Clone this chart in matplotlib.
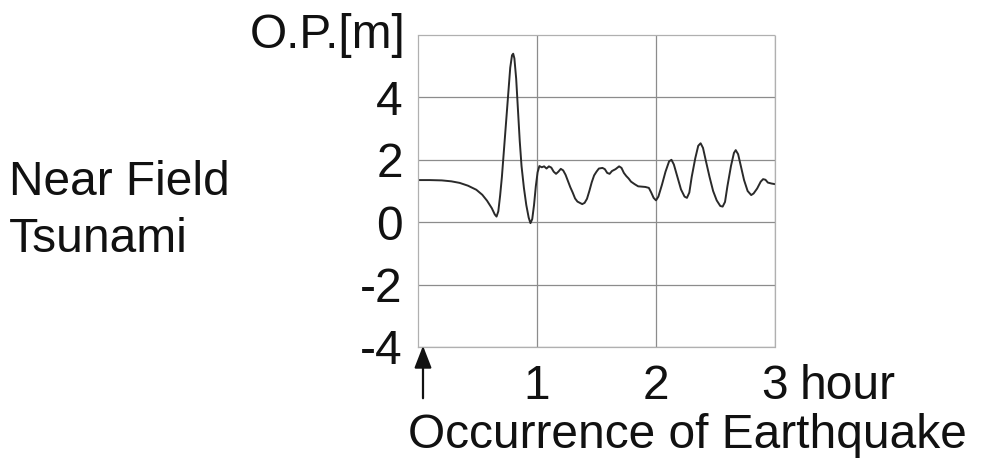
import matplotlib
matplotlib.use("Agg")
import matplotlib.pyplot as plt
from matplotlib.patches import FancyArrowPatch

plt.rcParams['font.family'] = ['Liberation Sans', 'DejaVu Sans']

# Observed water level (O.P. datum) after the earthquake
hours = [0.00, 0.10, 0.20, 0.28, 0.35, 0.42, 0.49, 0.54, 0.58, 0.62, 0.645, 0.66,
         0.675, 0.69, 0.705, 0.72, 0.74, 0.76, 0.775, 0.79, 0.80, 0.81, 0.825, 0.84,
         0.855, 0.87, 0.89, 0.91, 0.93, 0.945, 0.96, 0.975, 0.99, 1.005, 1.02, 1.04,
         1.06, 1.08, 1.10, 1.12, 1.14, 1.16, 1.18, 1.20, 1.22, 1.24, 1.26, 1.28,
         1.30, 1.32, 1.34, 1.36, 1.38, 1.40, 1.42, 1.44, 1.46, 1.48, 1.50, 1.52,
         1.55, 1.57, 1.59, 1.61, 1.63, 1.66, 1.69, 1.71, 1.73, 1.75, 1.77, 1.79,
         1.82, 1.85, 1.88, 1.91, 1.94, 1.96, 1.98, 2.00, 2.02, 2.05, 2.08, 2.11,
         2.13, 2.15, 2.18, 2.21, 2.24, 2.26, 2.28, 2.30, 2.33, 2.355, 2.375, 2.395,
         2.42, 2.45, 2.48, 2.51, 2.54, 2.56, 2.58, 2.60, 2.63, 2.655, 2.67, 2.69,
         2.71, 2.74, 2.77, 2.80, 2.82, 2.85, 2.88, 2.90, 2.92, 2.94, 2.97, 3.00]
level_m = [1.35, 1.35, 1.34, 1.31, 1.26, 1.17, 1.04, 0.88, 0.69, 0.45, 0.25, 0.18,
           0.35, 0.85, 1.45, 2.20, 3.20, 4.20, 4.95, 5.35, 5.40, 5.25, 4.60, 3.60,
           2.60, 1.80, 1.10, 0.55, 0.15, -0.03, 0.10, 0.55, 1.15, 1.60, 1.80, 1.76,
           1.79, 1.72, 1.79, 1.75, 1.62, 1.55, 1.62, 1.71, 1.66, 1.52, 1.32, 1.12,
           0.95, 0.76, 0.66, 0.62, 0.58, 0.62, 0.75, 1.00, 1.28, 1.50, 1.62, 1.72,
           1.74, 1.70, 1.58, 1.55, 1.64, 1.70, 1.79, 1.74, 1.58, 1.48, 1.40, 1.30,
           1.22, 1.15, 1.14, 1.13, 1.10, 0.95, 0.78, 0.70, 0.82, 1.20, 1.62, 1.95,
           2.00, 1.85, 1.45, 1.05, 0.82, 0.78, 0.95, 1.45, 2.05, 2.45, 2.53, 2.38,
           1.95, 1.45, 1.00, 0.70, 0.52, 0.50, 0.65, 1.15, 1.80, 2.22, 2.31, 2.18,
           1.85, 1.35, 1.00, 0.87, 0.92, 1.08, 1.30, 1.38, 1.36, 1.27, 1.24, 1.22]

x_ticks = [1, 2, 3]
x_tick_labels = ["1", "2", "3"]
y_ticks = [-4, -2, 0, 2, 4]
y_tick_labels = ["-4", "-2", "0", "2", "4"]

FS = 34.5
INK = "#111111"

fig = plt.figure(figsize=(9.82, 4.58), dpi=100)
ax = fig.add_axes([418 / 982, 111 / 458, 357 / 982, 312 / 458])

ax.plot(hours, level_m, color="#2a2a2a", linewidth=1.4)

ax.set_xlim(0, 3)
ax.set_ylim(-4, 6)
ax.set_xticks(x_ticks)
ax.set_xticklabels(x_tick_labels, fontsize=FS)
ax.set_yticks(y_ticks)
ax.set_yticklabels(y_tick_labels, fontsize=FS)
ax.tick_params(axis="both", length=0, colors=INK)
ax.tick_params(axis="x", pad=12)
ax.tick_params(axis="y", pad=11)

ax.grid(True, color="#8c8c8c", linewidth=0.9)
ax.set_axisbelow(True)
for side in ["top", "right", "left", "bottom"]:
    ax.spines[side].set_color("#b0b0b0")
    ax.spines[side].set_linestyle((0, (1, 1)))
    ax.spines[side].set_linewidth(0.9)

# Unit label above the y tick labels
fig.text(406 / 982, 1 - 48 / 458, "O.P.[m]", fontsize=FS, ha="right",
         va="baseline", color=INK)

# Unit after the last x tick, on the tick-label baseline
fig.text(800 / 982, 1 - 399 / 458, "hour", fontsize=FS, ha="left",
         va="baseline", color=INK)

# Series title on the left
fig.text(9 / 982, 1 - 195 / 458, "Near Field", fontsize=FS, ha="left",
         va="baseline", color=INK)
fig.text(9 / 982, 1 - 252 / 458, "Tsunami", fontsize=FS, ha="left",
         va="baseline", color=INK)

# Earthquake occurrence marker at t = 0
fig.patches.append(FancyArrowPatch(
    (423 / 982, 1 - 401 / 458), (423 / 982, 1 - 343 / 458),
    transform=fig.transFigure, arrowstyle="-|>,head_length=9,head_width=3.5",
    color=INK, linewidth=1.6, mutation_scale=1.5))
fig.text(408 / 982, 1 - 448 / 458, "Occurrence of Earthquake", fontsize=FS,
         ha="left", va="baseline", color=INK)

fig.savefig("out.png", dpi=100)
